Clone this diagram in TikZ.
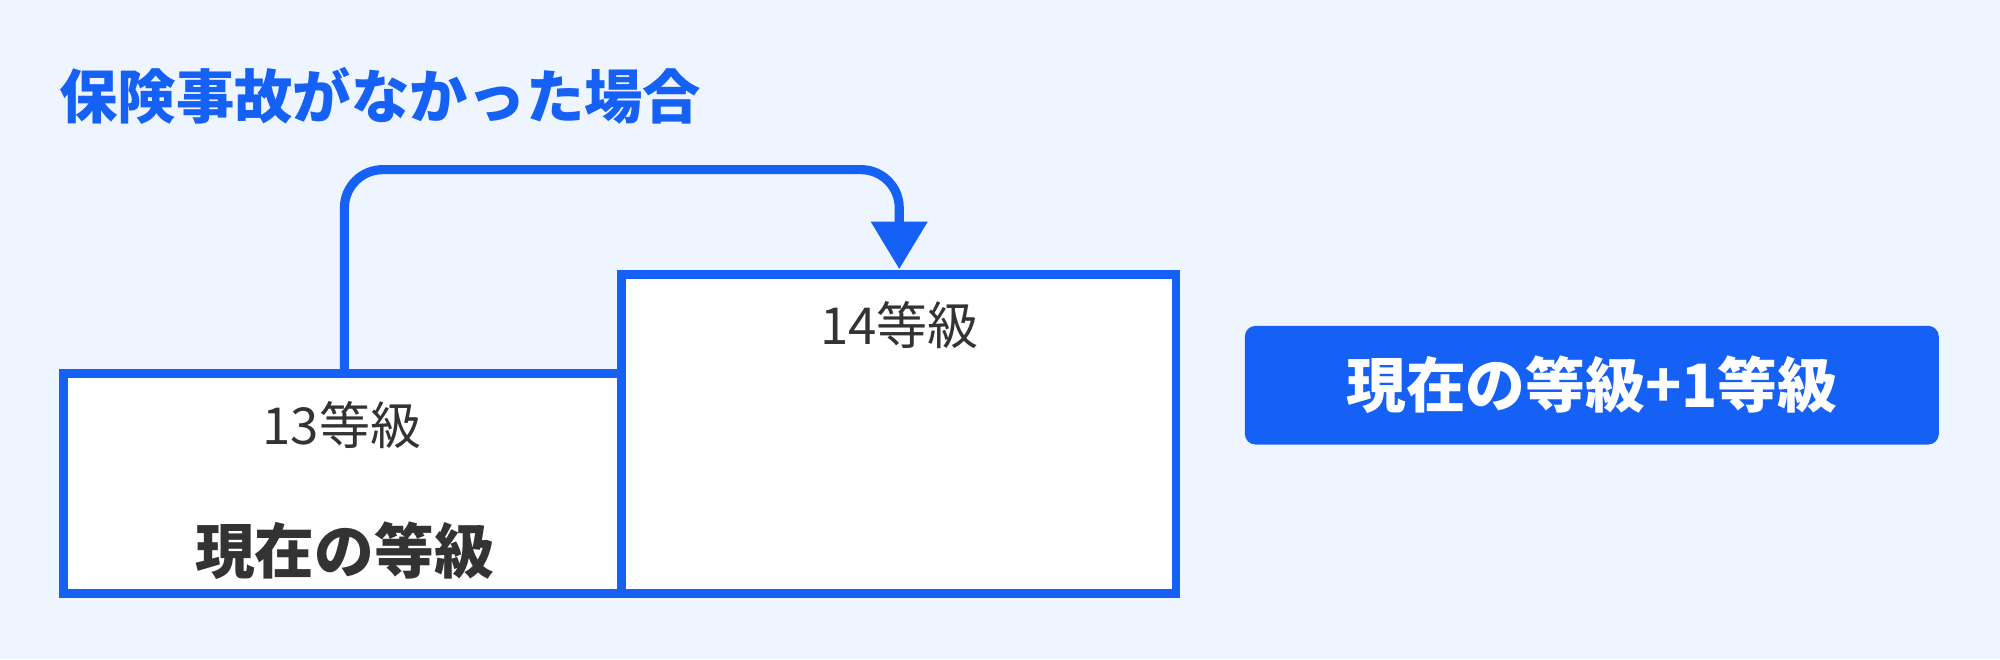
\documentclass[tikz,border=0pt]{standalone}
\usepackage{fontspec}
\setmainfont{Noto Sans CJK JP}
\newfontfamily\jpb{Noto Sans CJK JP Bold}
\usetikzlibrary{arrows.meta}
\definecolor{bg}{HTML}{EEF5FE}
\definecolor{bl}{HTML}{1560F5}
\definecolor{tx}{HTML}{333333}
\tikzset{box/.style={draw=bl,line width=2.5pt,fill=white},
lab/.style={text=tx,font=\fontsize{14.5pt}{16pt}\selectfont,inner sep=0pt}}
\begin{document}
\begin{tikzpicture}[x=0.012755cm,y=-0.012755cm]
\fill[bg] (0,0) rectangle (1568,517);
\useasboundingbox (0,0) rectangle (1568,517);
\node[anchor=west,text=bl,font=\fontsize{16.6pt}{18pt}\bfseries\selectfont,inner sep=0pt] (title) at (46,75) {保険事故がなかった場合};
\draw[box] (50,293) rectangle (487,465);
\draw[box] (487,215) rectangle (922,465);
\node[lab] (l13) at (268,333) {13等級};
\node[lab,font=\fontsize{17pt}{18pt}\bfseries\selectfont] (cur) at (270,432) {現在の等級};
\node[lab] (l14) at (705,255) {14等級};
\coordinate (s) at (270,291);
\coordinate (e) at (705,211);
\draw[bl,line width=2.6pt,rounded corners=30*0.012755cm,-{Triangle[length=13.5pt,width=15.5pt]}] (s) -- (270,133) -- (705,133) -- (e);
\node[fill=bl,rounded corners=3pt,minimum width=544*0.012755cm,minimum height=93*0.012755cm,text=white,font=\fontsize{17pt}{18pt}\bfseries\selectfont] (pill) at (1248,302) {現在の等級+1等級};
\end{tikzpicture}
\end{document}
